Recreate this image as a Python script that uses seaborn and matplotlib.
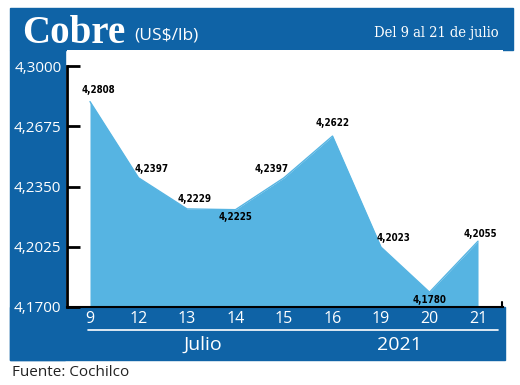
import matplotlib
matplotlib.use('Agg')
import matplotlib.pyplot as plt
from matplotlib.patches import Rectangle
import seaborn as sns
import pandas as pd

# data
days = ['9', '12', '13', '14', '15', '16', '19', '20', '21']
prices = [4.2808, 4.2397, 4.2229, 4.2225, 4.2397, 4.2622, 4.2023, 4.1780, 4.2055]
y_ticks = [4.17, 4.2025, 4.235, 4.2675, 4.30]
# label offsets in pixels (dx, dy) from each point
label_off = [(8, 12), (13, 9), (8, 10), (0, -7), (-12, 9), (0, 13), (12, 9), (0, -8), (2, 7)]

BLUE = '#0f63a6'
FILL = '#56b4e2'
W, H = 520, 385

df = pd.DataFrame({'idx': range(len(days)), 'price': prices})

sns.set_theme(style='white')
fig = plt.figure(figsize=(W / 100, H / 100), dpi=100)
fig.patch.set_facecolor('white')


def fx(x):
    return x / W


def fy(y):
    return 1 - y / H


def frect(x0, y0, x1, y1, **kw):
    r = Rectangle((fx(x0), fy(y1)), fx(x1) - fx(x0), fy(y0) - fy(y1),
                  transform=fig.transFigure, zorder=-5, **kw)
    fig.add_artist(r)


# blue frame pieces
frect(10, 8, 513, 50, color=BLUE)     # header
frect(10, 50, 65, 360, color=BLUE)    # left column
frect(10, 307, 505, 360, color=BLUE)  # bottom band

ax = fig.add_axes([fx(67), fy(307), fx(503) - fx(67), fy(50) - fy(307)])
ax.set_facecolor('white')

sns.lineplot(data=df, x='idx', y='price', ax=ax, color=FILL, lw=1)
ax.fill_between(df['idx'], df['price'], 4.17, color=FILL, lw=0)

ax.set_xlim(-0.474, 8.515)
ax.set_ylim(4.17, 4.17 + 257 / 60.25 * 0.0325)
ax.set_xlabel('')
ax.set_ylabel('')

ax.set_yticks(y_ticks)
ax.set_yticklabels([f'{v:.4f}'.replace('.', ',') for v in y_ticks],
                   color='white', fontsize=11, family='Open Sans')
ax.tick_params(axis='y', direction='in', length=9, width=2, color='black', pad=4, left=True)
ax.set_xticks(range(len(days)))
ax.set_xticklabels(days, color='white', fontsize=11.5, family='Open Sans')
ax.tick_params(axis='x', length=0, pad=3)

for s in ['top', 'right']:
    ax.spines[s].set_visible(False)
ax.spines['left'].set_color('black')
ax.spines['left'].set_linewidth(2)
ax.spines['left'].set_bounds(4.17, 4.30)
ax.spines['bottom'].set_color('black')
ax.spines['bottom'].set_linewidth(1.5)
ax.plot([8.5, 8.5], [4.17, 4.1727], color='black', lw=1.5, clip_on=False)

for i, (p, (dx, dy)) in enumerate(zip(prices, label_off)):
    ax.annotate(f'{p:.4f}'.replace('.', ','), (i, p), xytext=(dx, dy),
                textcoords='offset pixels', ha='center', va='center',
                fontsize=7, fontweight='bold', fontstretch='condensed',
                family='DejaVu Sans', color='black')

# header text
fig.text(fx(22), fy(43), 'Cobre', color='white', fontsize=28, fontweight='bold',
         family='Liberation Serif', va='baseline')
fig.text(fx(134), fy(40), '(US$/lb)', color='white', fontsize=12.5,
         family='Open Sans', va='baseline')
fig.text(fx(499), fy(37), 'Del 9 al 21 de julio', color='white', fontsize=10.5,
         family='DejaVu Serif', fontstretch='condensed', ha='right', va='baseline')

# bottom band
fig.add_artist(plt.Line2D([fx(88), fx(498)], [fy(330), fy(330)], color='white',
                          lw=1.2, transform=fig.transFigure))
fig.text(fx(203), fy(345), 'Julio', color='white', fontsize=14,
         family='Open Sans', ha='center', va='center')
fig.text(fx(399), fy(345), '2021', color='white', fontsize=14,
         family='Open Sans', ha='center', va='center')

fig.text(fx(12), fy(373), 'Fuente: Cochilco', color='#222222', fontsize=11,
         family='Open Sans', va='center')

fig.savefig('out.png', dpi=100)
